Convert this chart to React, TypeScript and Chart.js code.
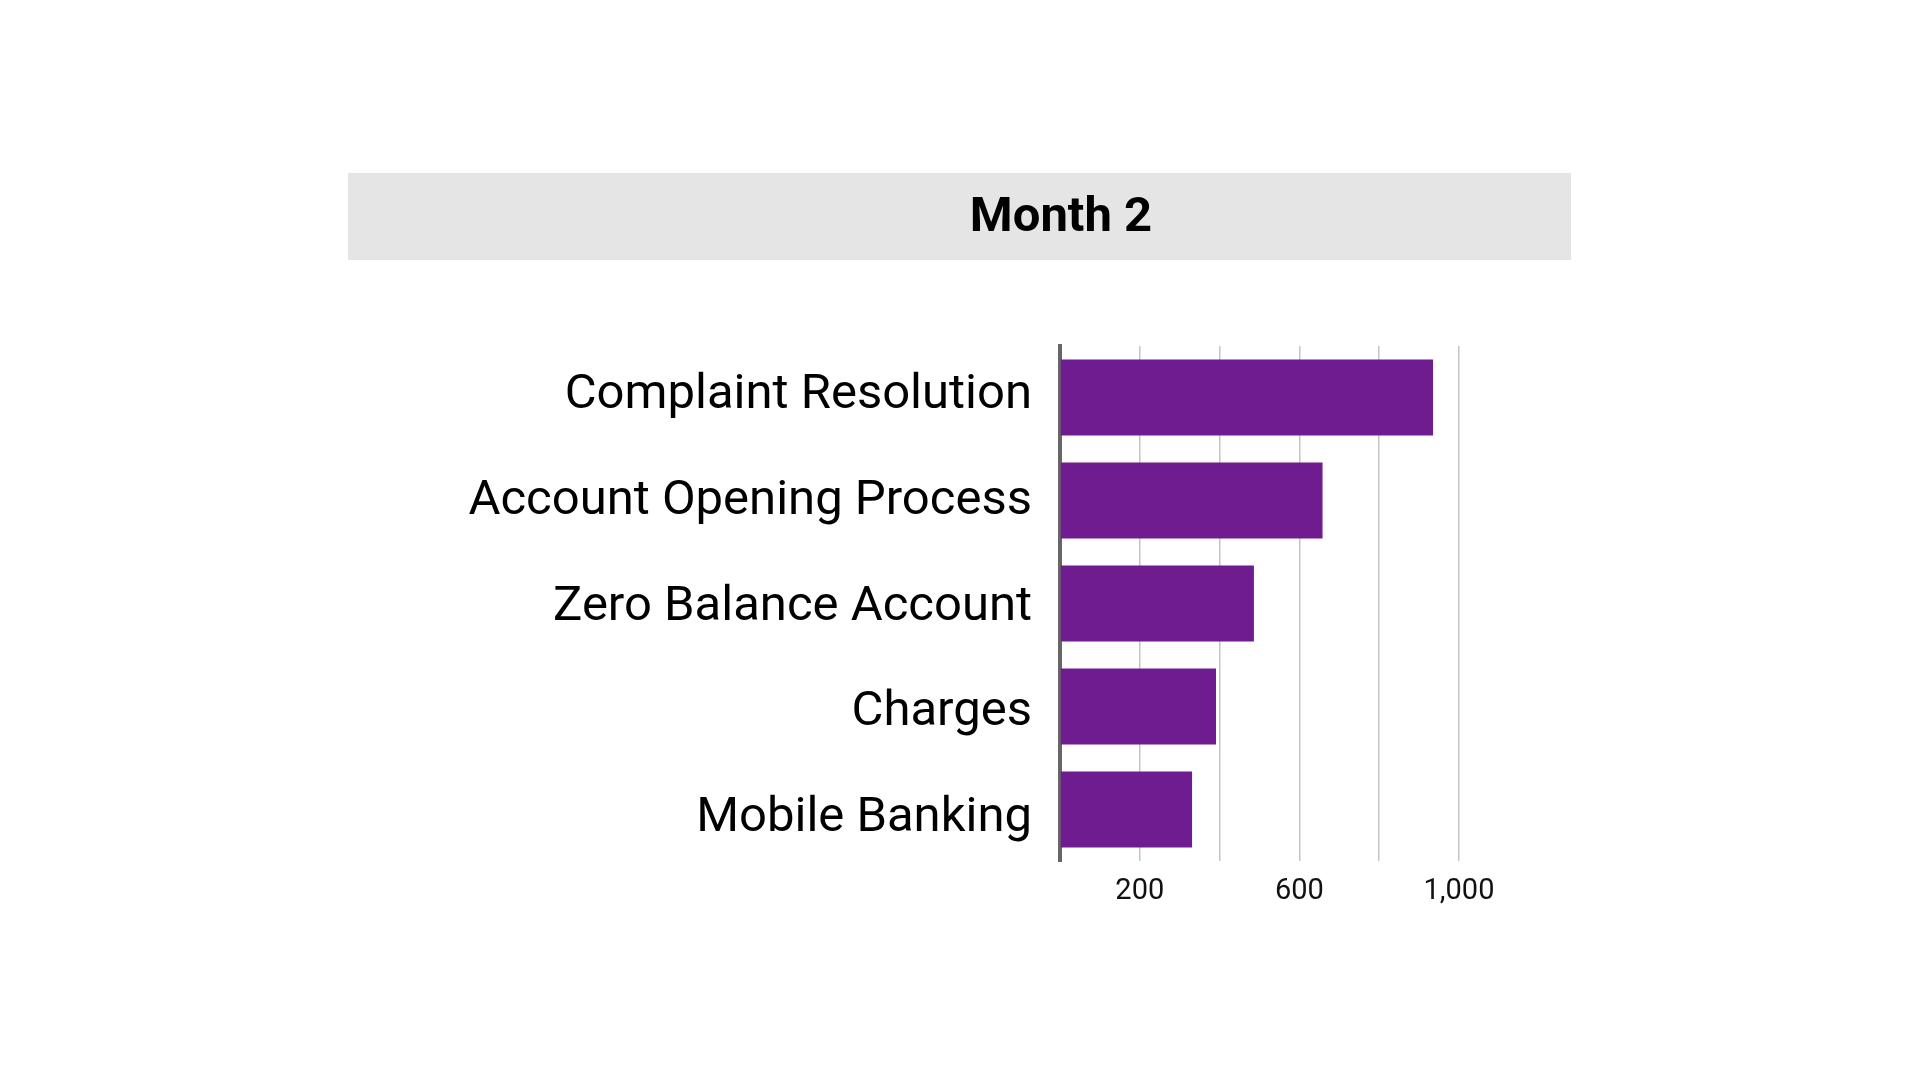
import React, { useEffect, useRef } from "react";
import { Chart, registerables } from "chart.js";

Chart.register(...registerables);

const categories = [
  "Complaint Resolution",
  "Account Opening Process",
  "Zero Balance Account",
  "Charges",
  "Mobile Banking",
];
const values = [935, 658, 486, 391, 331];
const titleText = "Month 2";
const axisMin = 0;
const axisMax = 1000;
const axisStep = 200;
const labeledTicks = [200, 600, 1000];
// label axis range (category index units) so the text rows sit like the reference
const labelAxisMin = -0.467;
const labelAxisMax = 4.396;

export default function App() {
  const ref = useRef<HTMLCanvasElement | null>(null);

  useEffect(() => {
    if (!ref.current) return;
    const chart = new Chart(ref.current, {
      type: "bar",
      data: {
        labels: categories,
        datasets: [
          {
            data: values,
            backgroundColor: "#701c91",
            borderWidth: 0,
            categoryPercentage: 1,
            barPercentage: 0.74,
            yAxisID: "y",
          },
        ],
      },
      options: {
        indexAxis: "y",
        animation: false,
        responsive: false,
        devicePixelRatio: 1,
        layout: { padding: { top: 346, right: 461, bottom: 0, left: 0 } },
        plugins: {
          legend: { display: false },
          tooltip: { enabled: false },
          title: { display: false },
        },
        scales: {
          x: {
            min: axisMin,
            max: axisMax,
            afterFit: (scale: any) => {
              scale.height = 219;
            },
            grid: {
              display: true,
              color: "#c4c4c4",
              lineWidth: 1.5,
              drawTicks: false,
            },
            border: { display: false },
            ticks: {
              stepSize: axisStep,
              padding: 13,
              color: "#111111",
              font: { family: "Roboto", size: 29 },
              maxRotation: 0,
              autoSkip: false,
              callback: (v: any) =>
                labeledTicks.includes(Number(v)) ? Number(v).toLocaleString("en-US") : "",
            },
          },
          y: {
            type: "category",
            display: false,
          },
          yL: {
            type: "linear",
            position: "left",
            reverse: true,
            offset: false,
            bounds: "data",
            min: labelAxisMin,
            max: labelAxisMax,
            afterBuildTicks: (scale: any) => {
              scale.ticks = categories.map((_, i) => ({ value: i }));
            },
            afterFit: (scale: any) => {
              scale.width = 1060;
            },
            grid: { display: false, drawTicks: false, offset: false },
            border: { display: true, color: "#666666", width: 4 },
            ticks: {
              padding: 28,
              color: "#000000",
              font: { family: "Roboto", size: 49 },
              autoSkip: false,
              callback: (v: any) => {
                const n = Math.round(Number(v));
                return n >= 0 && n < categories.length ? categories[n] : "";
              },
            },
          },
        },
      },
    });
    return () => chart.destroy();
  }, []);

  return (
    <div
      style={{
        position: "fixed",
        left: 0,
        top: 0,
        width: 1920,
        height: 1080,
        background: "#ffffff",
        overflow: "hidden",
      }}
    >
      <div
        style={{
          position: "absolute",
          left: 348,
          top: 173,
          width: 1223,
          height: 87,
          background: "#e5e5e5",
        }}
      />
      <div
        style={{
          position: "absolute",
          left: 1061,
          top: 172,
          height: 87,
          lineHeight: "85px",
          transform: "translateX(-50%)",
          fontFamily: "Roboto",
          fontWeight: 700,
          fontSize: 49,
          color: "#000000",
          whiteSpace: "nowrap",
        }}
      >
        {titleText}
      </div>
      <canvas
        ref={ref}
        width={1920}
        height={1080}
        style={{ position: "absolute", left: 0, top: 0, width: 1920, height: 1080 }}
      />
    </div>
  );
}
